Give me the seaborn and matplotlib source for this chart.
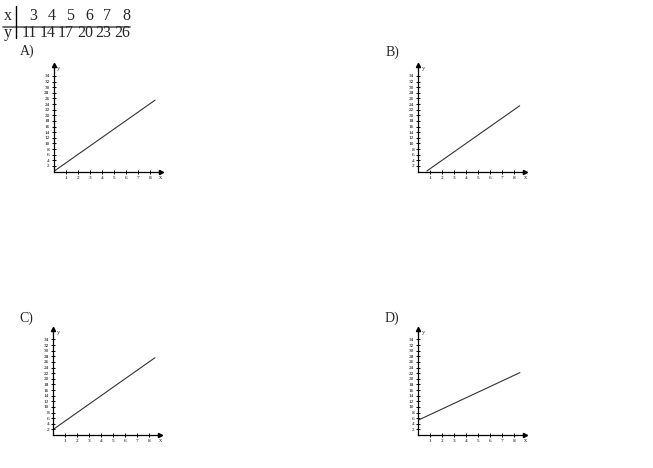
import matplotlib
matplotlib.use("Agg")

import pandas as pd
import matplotlib.pyplot as plt
import seaborn as sns

# ===============================
# data
# ===============================
table_x = ["3", "4", "5", "6", "7", "8"]
table_y = ["11", "14", "17", "20", "23", "26"]

panel_names = ["A)", "B)", "C)", "D)"]
line_x = {
    "A)": [0, 8.45],
    "B)": [0.72, 8.45],
    "C)": [0, 8.47],
    "D)": [0, 8.47],
}
line_y = {
    "A)": [0, 25.4],
    "B)": [0.2, 23.4],
    "C)": [2, 27.5],
    "D)": [5.3, 22.2],
}
x_ticks = [1, 2, 3, 4, 5, 6, 7, 8]
y_ticks = [2, 4, 6, 8, 10, 12, 14, 16, 18, 20, 22, 24, 26, 28, 30, 32, 34]

# ===============================
# style
# ===============================
sns.set_style("white")
plt.rcParams['font.family'] = ['Liberation Serif', 'DejaVu Serif']

W, H = 653, 468
fig = plt.figure(figsize=(W / 100, H / 100), dpi=100)

# overlay in pixel coordinates for table and labels
ov = fig.add_axes([0, 0, 1, 1])
ov.set_xlim(0, W)
ov.set_ylim(H, 0)
ov.axis("off")

# table
ov.plot([3, 130], [26.7, 26.7], color="#666666", lw=1.3)
ov.plot([16, 16], [6, 38], color="black", lw=1.0)
ov.text(8, 20, "x", ha="center", va="baseline", fontsize=11.5)
ov.text(8, 37, "y", ha="center", va="baseline", fontsize=11.5)
for i, (a, b) in enumerate(zip(table_x, table_y)):
    right = 36.7 + i * 18.7
    ov.text(right, 20, a, ha="right", va="baseline", fontsize=11.5)
    ov.text(right, 37, b, ha="right", va="baseline", fontsize=11.5)

# panel placement (origin in pixels)
origins = {
    "A)": (53.7, 171.5),
    "B)": (418.3, 171.5),
    "C)": (53.3, 435.0),
    "D)": (418.3, 435.0),
}
label_pos = {
    "A)": (20, 55),
    "B)": (386, 56),
    "C)": (19, 322),
    "D)": (385, 322),
}
px_x = 12.0   # pixels per x unit
px_y = 2.81   # pixels per y unit
xmax, ymax = 8.9, 37.9

for name in panel_names:
    ox, oy = origins[name]
    left = ox / W
    bottom = (H - oy) / H
    ax = fig.add_axes([left, bottom, xmax * px_x / W, ymax * px_y / H])
    ax.set_xlim(0, xmax)
    ax.set_ylim(0, ymax)
    ax.patch.set_alpha(0)

    df = pd.DataFrame({"x": line_x[name], "y": line_y[name]})
    sns.lineplot(data=df, x="x", y="y", ax=ax, color="#333333", lw=0.8)

    for s in ["top", "right"]:
        ax.spines[s].set_visible(False)
    for s in ["left", "bottom"]:
        ax.spines[s].set_linewidth(0.9)
        ax.spines[s].set_color("black")
    ax.set_xticks(x_ticks)
    ax.set_yticks(y_ticks)
    ax.set_xticklabels([str(t) for t in x_ticks])
    ax.set_yticklabels([str(t) for t in y_ticks])
    ax.tick_params(bottom=True, left=True, direction="inout", length=3.5,
                   width=0.7, labelsize=3.8, pad=1.2, colors="black")
    ax.set_xlabel("")
    ax.set_ylabel("")

    # arrow heads
    ax.plot(1, 0, ">k", ms=3, transform=ax.transAxes, clip_on=False)
    ax.plot(0, 1, "^k", ms=3, transform=ax.transAxes, clip_on=False)
    ax.text(1.0, -0.055, "x", transform=ax.transAxes, fontsize=4.5,
            ha="center", va="center")
    ax.text(0.045, 0.965, "y", transform=ax.transAxes, fontsize=4.5,
            ha="center", va="center")

    lx, ly = label_pos[name]
    ov.text(lx, ly, name, ha="left", va="baseline", fontsize=10)

fig.savefig("out.png", dpi=100)
plt.close(fig)
